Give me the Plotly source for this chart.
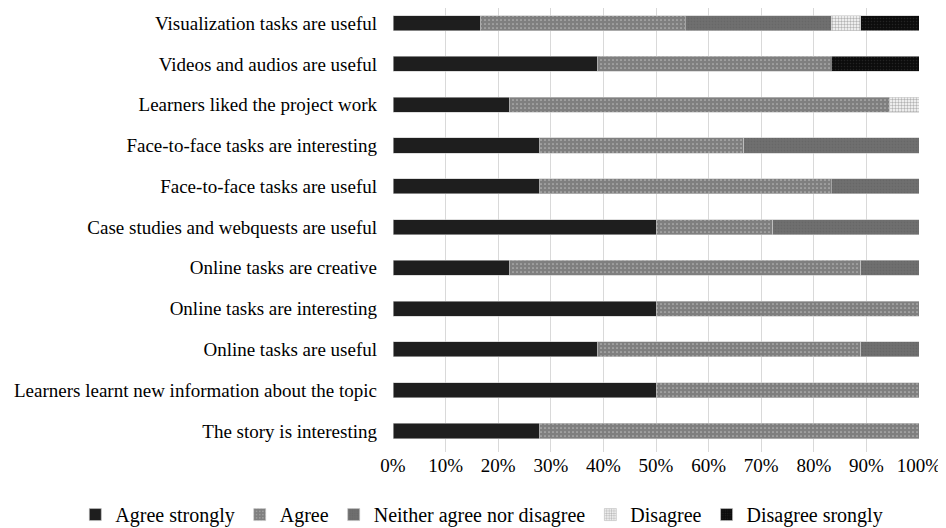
import plotly.graph_objects as go

categories = [
    "The story is interesting",
    "Learners learnt new information about the topic",
    "Online tasks are useful",
    "Online tasks are interesting",
    "Online tasks are creative",
    "Case studies and webquests are useful",
    "Face-to-face tasks are useful",
    "Face-to-face tasks are interesting",
    "Learners liked the project work",
    "Videos and audios are useful",
    "Visualization tasks are useful",
]

agree_strongly = [27.78, 50.0, 38.89, 50.0, 22.22, 50.0, 27.78, 27.78, 22.22, 38.89, 16.67]
agree = [72.22, 50.0, 50.0, 50.0, 66.67, 22.22, 55.56, 38.89, 72.22, 44.44, 38.89]
neither = [0, 0, 11.11, 0, 11.11, 27.78, 16.67, 33.33, 0, 0, 27.78]
disagree = [0, 0, 0, 0, 0, 0, 0, 0, 5.56, 0, 5.56]
disagree_strongly = [0, 0, 0, 0, 0, 0, 0, 0, 0, 16.67, 11.11]

series_names = ["Agree strongly", "Agree", "Neither agree nor disagree", "Disagree", "Disagree srongly"]
tick_vals = [0, 10, 20, 30, 40, 50, 60, 70, 80, 90, 100]
tick_text = ["0%", "10%", "20%", "30%", "40%", "50%", "60%", "70%", "80%", "90%", "100%"]

styles = [
    dict(color="#1e1e1e", pattern=dict(shape="")),
    dict(color="#ffffff", pattern=dict(shape=".", fgcolor="#000000", bgcolor="#ffffff", size=4, solidity=0.85, fillmode="overlay")),
    dict(color="#6a6a6a", pattern=dict(shape=".", fgcolor="#5e5e5e", bgcolor="#707070", size=3, solidity=0.3, fillmode="overlay")),
    dict(color="#ffffff", pattern=dict(shape=".", fgcolor="#6a6a6a", bgcolor="#ffffff", size=3, solidity=0.5, fillmode="overlay")),
    dict(color="#0c0c0c", pattern=dict(shape=".", fgcolor="#3a3a3a", bgcolor="#0c0c0c", size=3, solidity=0.2, fillmode="overlay")),
]

fig = go.Figure()
for name, vals, st in zip(series_names, [agree_strongly, agree, neither, disagree, disagree_strongly], styles):
    fig.add_trace(go.Bar(
        y=categories, x=vals, name=name, orientation="h",
        marker=dict(color=st["color"], pattern=st["pattern"], line=dict(color="#c8c8c8", width=0.6)),
    ))

font_family = "Liberation Serif, Times New Roman, serif"
fig.update_layout(
    barmode="stack",
    width=938, height=520,
    margin=dict(l=385, r=27, t=0, b=76, autoexpand=False),
    plot_bgcolor="white", paper_bgcolor="white",
    bargap=0.63,
    font=dict(family=font_family, size=19, color="#000000"),
    xaxis=dict(range=[0, 100], tickvals=tick_vals, ticktext=tick_text,
               showgrid=True, gridcolor="#d9d9d9", gridwidth=1, zeroline=False,
               showline=False, tickfont=dict(size=19), automargin=False),
    yaxis=dict(showgrid=False, showline=False, ticks="", ticklabelstandoff=15,
               tickfont=dict(size=19), automargin=False, range=[-0.515, 10.37]),
    legend=dict(orientation="h", xref="paper", x=-0.604, xanchor="left",
                yref="paper", y=-0.097, yanchor="top",
                font=dict(size=20), itemwidth=30, traceorder="normal"),
    showlegend=True,
)

fig.write_html("out.html")
